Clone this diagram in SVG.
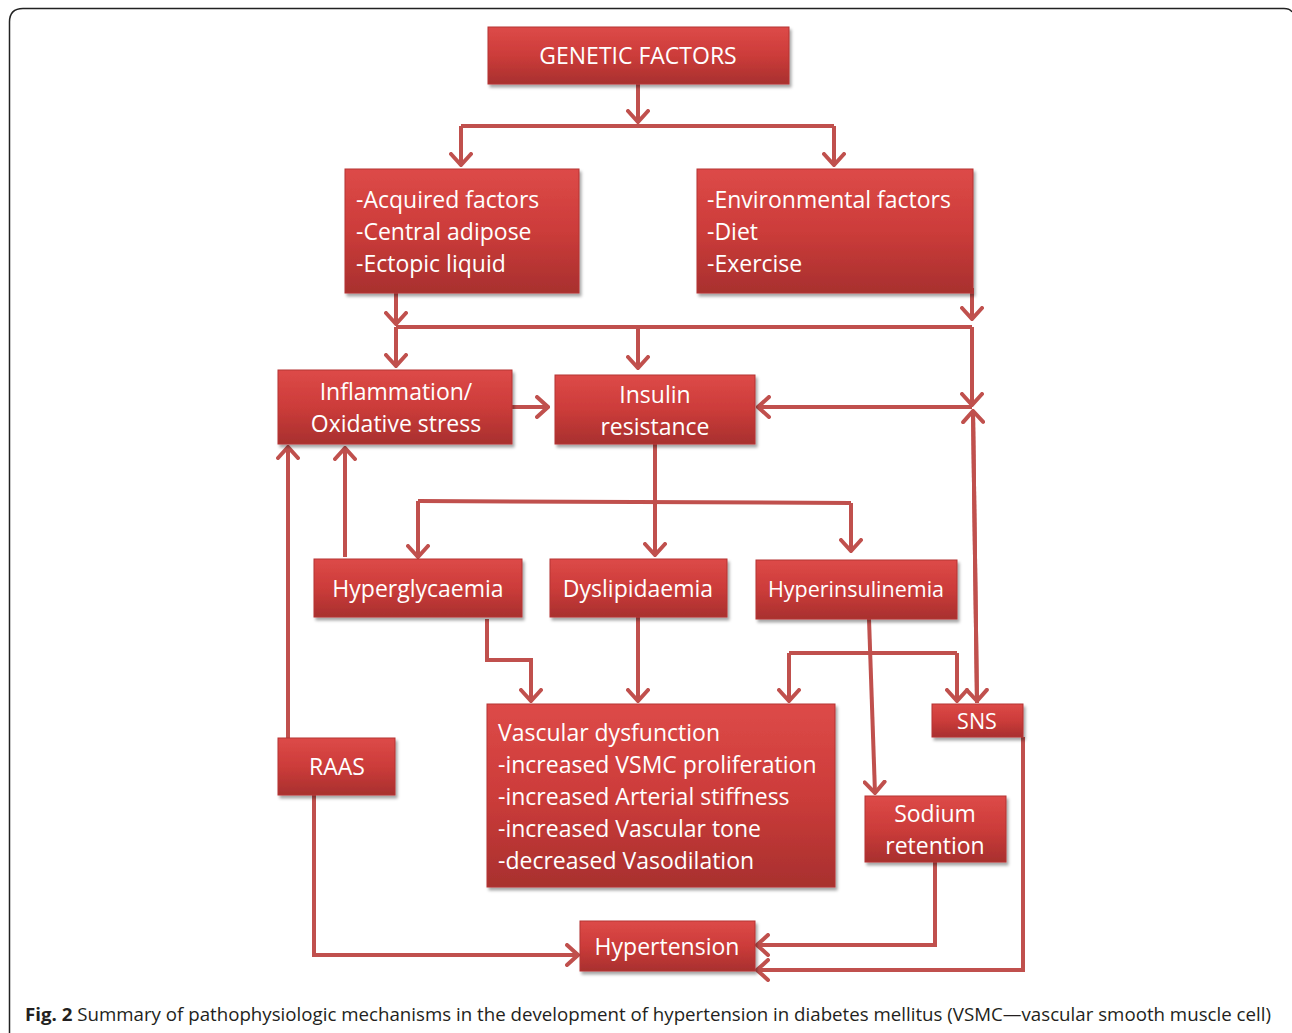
<svg xmlns="http://www.w3.org/2000/svg" width="1292" height="1033" viewBox="0 0 1292 1033">
<defs>
<linearGradient id="g" x1="0" y1="0" x2="0" y2="1">
<stop offset="0" stop-color="#dd4a48"/>
<stop offset="0.5" stop-color="#cc3c3a"/>
<stop offset="1" stop-color="#a8302e"/>
</linearGradient>
<filter id="sh" x="-10%" y="-10%" width="130%" height="140%">
<feDropShadow dx="2" dy="3" stdDeviation="1.8" flood-color="#000" flood-opacity="0.35"/>
</filter>
<marker id="ah" viewBox="-13 -12 15 24" refX="0" refY="0" markerWidth="15" markerHeight="24" markerUnits="userSpaceOnUse" orient="auto">
<path d="M-11,-10 L0,0 L-11,10" fill="none" stroke="#c0504d" stroke-width="4" stroke-linecap="round" stroke-linejoin="miter"/>
</marker>
<style>
.box{fill:url(#g);stroke:#b53532;stroke-width:1;filter:url(#sh)}
.t{font-family:"Open Sans","Liberation Sans",sans-serif;font-size:23px;fill:#ffffff}
.c{text-anchor:middle}
.cn path{fill:none;stroke:#c0504d;stroke-width:4;stroke-linejoin:miter}
.cap{font-family:"Open Sans","Liberation Sans",sans-serif;font-size:18px;fill:#231f20}
</style>
</defs>
<rect width="1292" height="1033" fill="#ffffff"/>
<path d="M9.5,1033 L9.5,22 Q9.5,8.5 23,8.5 L1284,8.5 Q1290,8.5 1292,12" fill="none" stroke="#222" stroke-width="1.5"/>

<g id="connectors" class="cn">
<path d="M638,84 L638,122" marker-end="url(#ah)"/>
<path d="M461,126 L834,126"/>
<path d="M461,126 L461,165" marker-end="url(#ah)"/>
<path d="M834,126 L834,165" marker-end="url(#ah)"/>
<path d="M396,293 L396,324" marker-end="url(#ah)"/>
<path d="M972,288 L972,319" marker-end="url(#ah)"/>
<path d="M396,327 L972,327"/>
<path d="M396,327 L396,366" marker-end="url(#ah)"/>
<path d="M638,327 L638,368" marker-end="url(#ah)"/>
<path d="M972,327 L972,405" marker-end="url(#ah)"/>
<path d="M972,407 L758,407" marker-end="url(#ah)"/>
<path d="M512,407 L548,407" marker-end="url(#ah)"/>
<path d="M977,703 L973,411" marker-end="url(#ah)"/>
<path d="M973,411 L977,701" marker-end="url(#ah)"/>
<path d="M655,444 L655,555" marker-end="url(#ah)"/>
<path d="M418,501 L851,503"/>
<path d="M418,501 L418,557" marker-end="url(#ah)"/>
<path d="M851,503 L851,551" marker-end="url(#ah)"/>
<path d="M288,740 L288,447" marker-end="url(#ah)"/>
<path d="M345,557 L345,448" marker-end="url(#ah)"/>
<path d="M487,619 L487,660 L531,660 L531,701" marker-end="url(#ah)"/>
<path d="M638,617 L638,701" marker-end="url(#ah)"/>
<path d="M869,619 L875,793" marker-end="url(#ah)"/>
<path d="M789,653 L957,653"/>
<path d="M789,653 L789,701" marker-end="url(#ah)"/>
<path d="M957,653 L957,701" marker-end="url(#ah)"/>
<path d="M314,795 L314,955 L578,955" marker-end="url(#ah)"/>
<path d="M935,862 L935,945 L757,945" marker-end="url(#ah)"/>
<path d="M1023,737 L1023,970 L757,970" marker-end="url(#ah)"/>
</g>

<g id="genetic"><rect class="box" x="488" y="27" width="301" height="57"/><text class="t c" x="638" y="64">GENETIC FACTORS</text></g>
<g id="acquired"><rect class="box" x="345" y="169" width="234" height="124"/>
<text class="t" x="356" y="208">-Acquired factors</text><text class="t" x="356" y="240">-Central adipose</text><text class="t" x="356" y="272">-Ectopic liquid</text></g>
<g id="environmental"><rect class="box" x="697" y="169" width="276" height="124"/>
<text class="t" x="707" y="208">-Environmental factors</text><text class="t" x="707" y="240">-Diet</text><text class="t" x="707" y="272">-Exercise</text></g>
<g id="inflammation"><rect class="box" x="278" y="370" width="234" height="74"/>
<text class="t c" x="396" y="400">Inflammation/</text><text class="t c" x="396" y="432">Oxidative stress</text></g>
<g id="insulin"><rect class="box" x="555" y="375" width="200" height="69"/>
<text class="t c" x="655" y="403">Insulin</text><text class="t c" x="655" y="435">resistance</text></g>
<g id="hyperglycaemia"><rect class="box" x="314" y="559" width="208" height="58"/><text class="t c" x="418" y="597">Hyperglycaemia</text></g>
<g id="dyslipidaemia"><rect class="box" x="550" y="559" width="177" height="58"/><text class="t c" x="638" y="597">Dyslipidaemia</text></g>
<g id="hyperinsulinemia"><rect class="box" x="756" y="560" width="201" height="59"/><text class="t c" x="856" y="597" style="font-size:21.5px">Hyperinsulinemia</text></g>
<g id="vascular"><rect class="box" x="487" y="704" width="348" height="183"/>
<text class="t" x="498" y="741">Vascular dysfunction</text>
<text class="t" x="498" y="773">-increased VSMC proliferation</text>
<text class="t" x="498" y="805">-increased Arterial stiffness</text>
<text class="t" x="498" y="837">-increased Vascular tone</text>
<text class="t" x="498" y="869">-decreased Vasodilation</text></g>
<g id="sns"><rect class="box" x="932" y="704" width="91" height="33"/><text class="t c" x="977" y="729" style="font-size:21.5px">SNS</text></g>
<g id="raas"><rect class="box" x="278" y="738" width="117" height="57"/><text class="t c" x="337" y="775">RAAS</text></g>
<g id="sodium"><rect class="box" x="865" y="796" width="141" height="66"/>
<text class="t c" x="935" y="822">Sodium</text><text class="t c" x="935" y="854">retention</text></g>
<g id="hypertension"><rect class="box" x="580" y="921" width="175" height="50"/><text class="t c" x="667" y="955">Hypertension</text></g>

<text class="cap" x="25" y="1021" textLength="1246" lengthAdjust="spacingAndGlyphs"><tspan font-weight="bold">Fig. 2</tspan> Summary of pathophysiologic mechanisms in the development of hypertension in diabetes mellitus (VSMC—vascular smooth muscle cell)</text>
</svg>
